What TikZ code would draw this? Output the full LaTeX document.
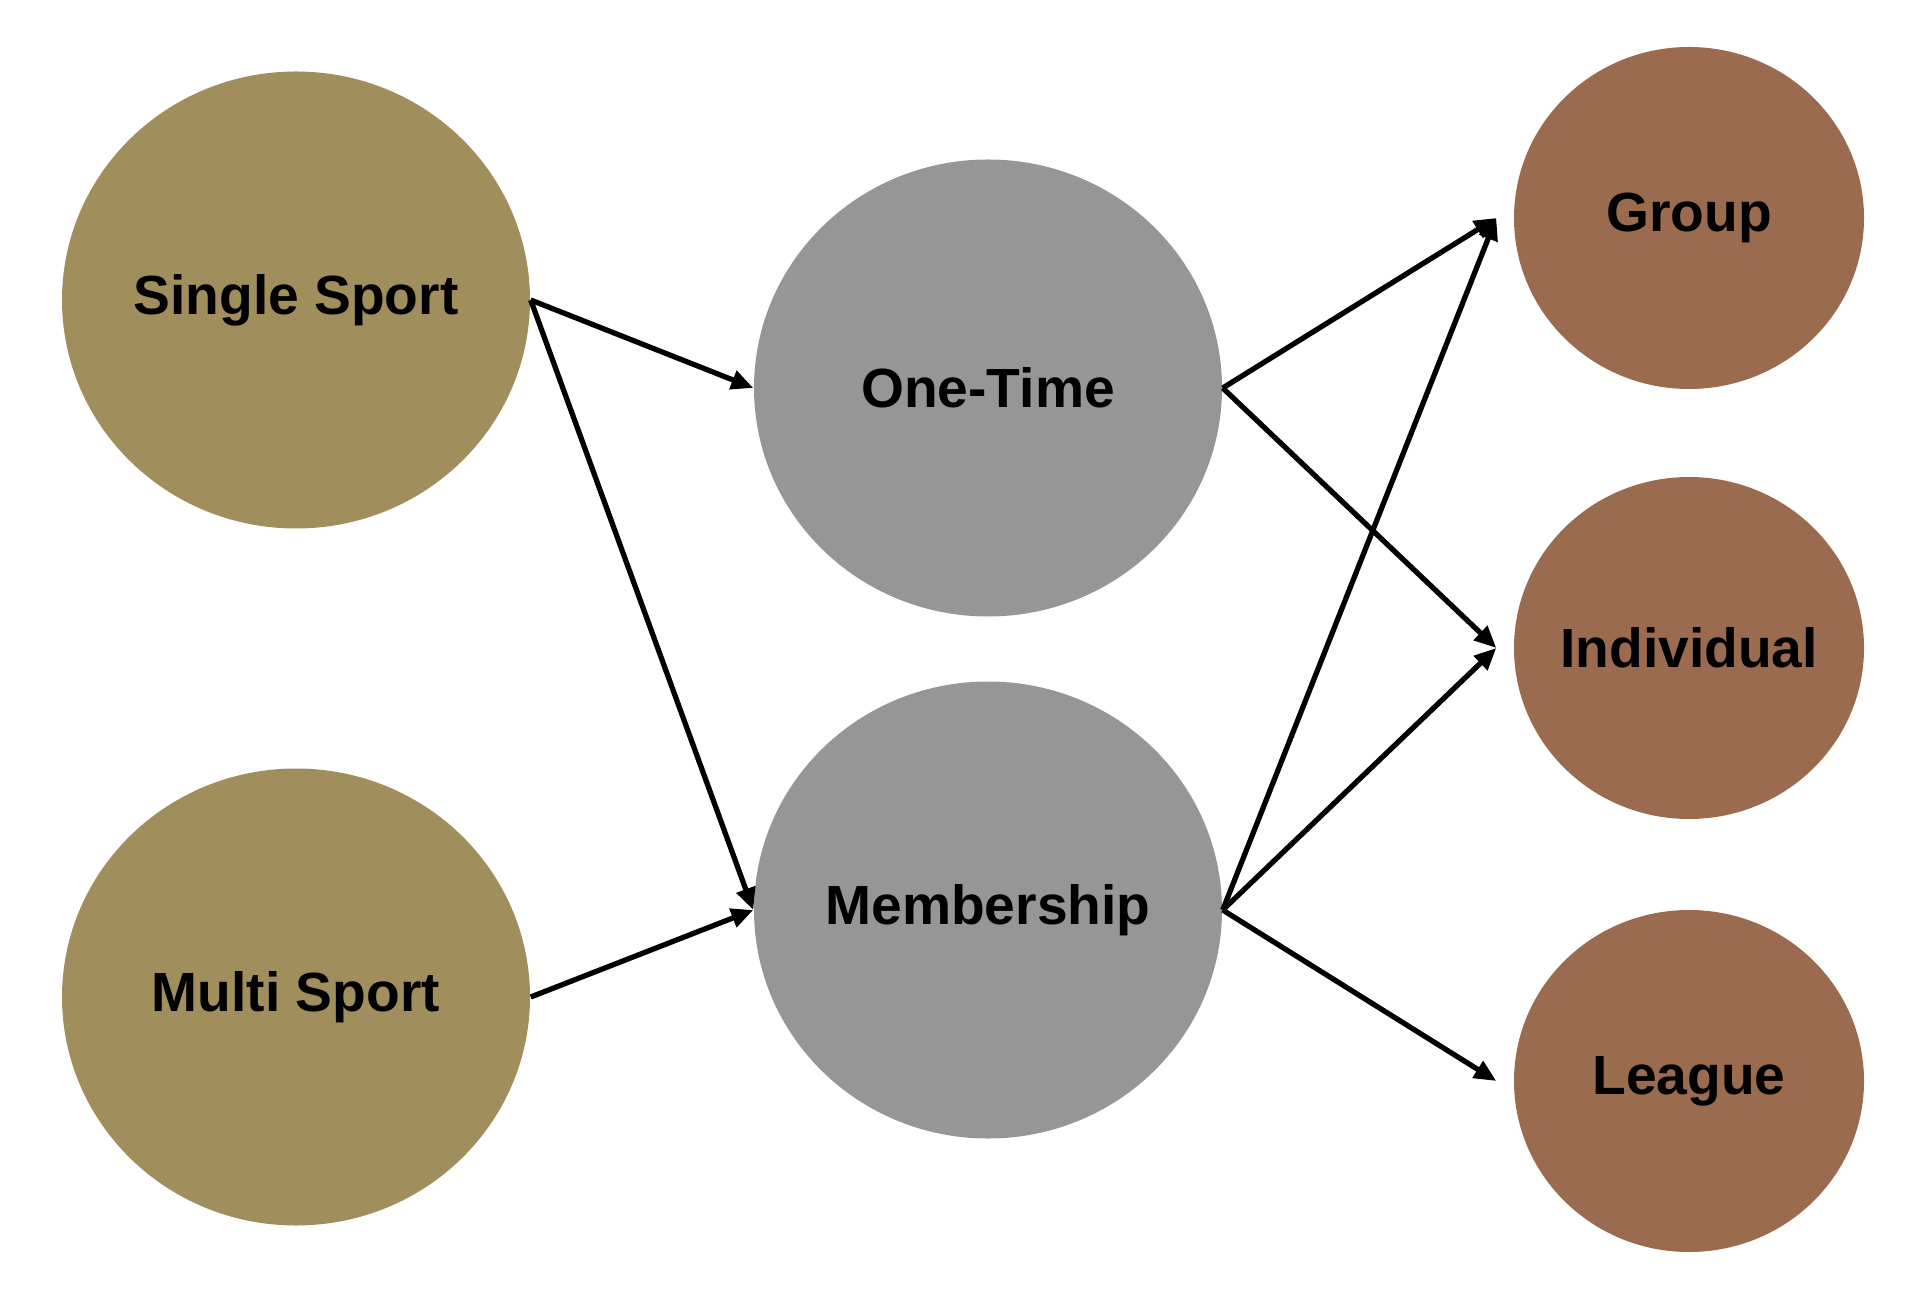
\documentclass[tikz,border=0pt]{standalone}
\usepackage{fontspec}
\setmainfont{Liberation Sans}
\usetikzlibrary{shapes.geometric,arrows.meta}

\definecolor{olivesport}{RGB}{160,142,92}
\definecolor{graykind}{RGB}{150,150,150}
\definecolor{brownplay}{RGB}{154,107,78}

\tikzset{
  bigball/.style={ellipse, minimum width=4.68cm, minimum height=4.57cm, inner sep=-0.5cm,
    font=\fontsize{15.7}{18}\selectfont\bfseries},
  smallball/.style={ellipse, minimum width=3.5cm, minimum height=3.42cm, inner sep=-0.5cm,
    fill=brownplay, font=\fontsize{15.7}{18}\selectfont\bfseries},
  link/.style={line width=1.5pt, -{Triangle[length=2.2mm,width=1.9mm]}}
}

\begin{document}
\begin{tikzpicture}
  \useasboundingbox (0,0) rectangle (19.2,-12.97);
  \def\gap{1.7mm}

  \node[bigball, fill=olivesport] (single) at (2.96,-3.00) {Single Sport};
  \node[bigball, fill=olivesport] (multi) at (2.96,-9.97) {Multi Sport};

  \node[bigball, fill=graykind] (onetime) at (9.88,-3.88) {One-Time};
  \node[bigball, fill=graykind] (member) at (9.88,-9.10) {Membership};

  \node[smallball] (group) at (16.89,-2.18) {Group};
  \node[smallball] (indiv) at (16.89,-6.48) {Individual};
  \node[smallball] (league) at (16.89,-10.81) {League};

  \coordinate (groupin) at ([xshift=-\gap]group.west);
  \coordinate (indivin) at ([xshift=-\gap]indiv.west);
  \coordinate (leaguein) at ([xshift=-\gap]league.west);

  \draw[link] (single.east) -- (onetime.west);
  \draw[link] (single.east) -- (member.west);
  \draw[link] (multi.east) -- (member.west);

  \draw[link] (onetime.east) -- (groupin);
  \draw[link] (onetime.east) -- (indivin);

  \draw[link] (member.east) -- (groupin);
  \draw[link] (member.east) -- (indivin);
  \draw[link] (member.east) -- (leaguein);

\end{tikzpicture}
\end{document}
